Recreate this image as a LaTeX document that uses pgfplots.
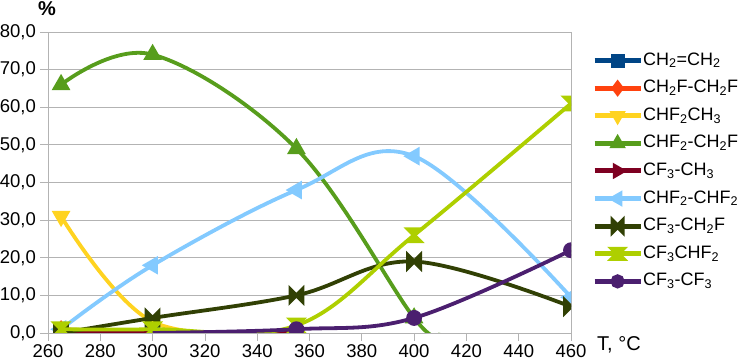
\documentclass[border=0pt]{standalone}
\usepackage{fontspec}
\setmainfont{Liberation Sans}
\usepackage{pgfplots}
\pgfplotsset{compat=1.18}
\definecolor{c1}{HTML}{004586}
\definecolor{c2}{HTML}{FF420E}
\definecolor{c3}{HTML}{FFD320}
\definecolor{c4}{HTML}{579D1C}
\definecolor{c5}{HTML}{7E0021}
\definecolor{c6}{HTML}{83CAFF}
\definecolor{c7}{HTML}{314004}
\definecolor{c8}{HTML}{AECF00}
\definecolor{c9}{HTML}{4B1F6F}
\definecolor{gridgray}{HTML}{B3B3B3}
\pgfdeclareplotmark{bowtie}{%
  \pgfpathmoveto{\pgfqpoint{-\pgfplotmarksize}{\pgfplotmarksize}}%
  \pgfpathlineto{\pgfqpoint{\pgfplotmarksize}{-\pgfplotmarksize}}%
  \pgfpathlineto{\pgfqpoint{\pgfplotmarksize}{\pgfplotmarksize}}%
  \pgfpathlineto{\pgfqpoint{-\pgfplotmarksize}{-\pgfplotmarksize}}%
  \pgfpathclose\pgfusepathqfillstroke}
\pgfdeclareplotmark{hourglass}{%
  \pgfpathmoveto{\pgfqpoint{-\pgfplotmarksize}{\pgfplotmarksize}}%
  \pgfpathlineto{\pgfqpoint{\pgfplotmarksize}{\pgfplotmarksize}}%
  \pgfpathlineto{\pgfqpoint{-\pgfplotmarksize}{-\pgfplotmarksize}}%
  \pgfpathlineto{\pgfqpoint{\pgfplotmarksize}{-\pgfplotmarksize}}%
  \pgfpathclose\pgfusepathqfillstroke}
\begin{document}
\begin{tikzpicture}
\begin{axis}[
  at={(0pt,0pt)}, anchor=south west,
  scale only axis, width=523pt, height=301pt,
  xmin=260, xmax=460, ymin=0, ymax=80,
  xtick={260,280,...,460}, ytick={0,10,...,80},
  ymajorgrids, grid style={gridgray, line width=0.8pt},
  axis line style={gridgray, line width=0.8pt},
  tick style={gridgray, line width=0.8pt},
  tick align=outside, major tick length=8pt,
  xtick pos=bottom, ytick pos=left,
  /pgf/number format/assume math mode=true,
  tick label style={font=\fontsize{18.5}{22}\selectfont, text=black},
  y tick label style={/pgf/number format/.cd, fixed, fixed zerofill, precision=1, use comma, /tikz/.cd, inner sep=1pt, xshift=-3pt},
  x tick label style={/pgf/number format/.cd, 1000 sep={}, /tikz/.cd, inner sep=1pt, yshift=-2pt},
  clip marker paths=true,
  every axis plot/.append style={line width=3.8pt, smooth, tension=0.6, mark options={solid, line width=0.4pt}},
  legend image code/.code={\draw[#1, mark indices={2}, line width=5pt, mark size=4.5pt] plot coordinates {(0pt,0pt) (23pt,0pt) (46pt,0pt)};},
  legend cell align=left,
  legend style={at={(axis description cs:1.040,0.934)}, anchor=north west, draw=none, fill=none,
    inner sep=0pt, row sep=10.6pt, column sep=0pt,
    font=\fontsize{18}{21}\selectfont,
    nodes={inner sep=0pt, text height=13pt, text depth=4pt}},
]
\addplot[c1, mark=square*, mark size=6pt, mark options={fill=c1, draw=c1}] coordinates {(265,0) (300,0)};
\addlegendentry{CH\textsubscript{2}=CH\textsubscript{2}}
\addplot[c2, mark=diamond*, mark size=6pt, mark options={fill=c2, draw=c2}] coordinates {(265,1) (300,0)};
\addlegendentry{CH\textsubscript{2}F-CH\textsubscript{2}F}
\addplot[c3, mark=triangle*, mark size=7pt, mark indices={1,2}, mark options={fill=c3, draw=c3, rotate=180}] coordinates {(265,31) (300,3) (355,0)};
\addlegendentry{CHF\textsubscript{2}CH\textsubscript{3}}
\addplot[c4, mark=triangle*, mark size=7pt, mark indices={1,2,3,4}, mark options={fill=c4, draw=c4}] coordinates {(265,66) (300,74) (355,49) (400,4) (410,0)};
\addlegendentry{CHF\textsubscript{2}-CH\textsubscript{2}F}
\addplot[c5, mark=triangle*, mark size=7pt, mark indices={1,2}, mark options={fill=c5, draw=c5, rotate=-90}] coordinates {(265,0) (300,0) (355,0)};
\addlegendentry{CF\textsubscript{3}-CH\textsubscript{3}}
\addplot[c6, mark=triangle*, mark size=7pt, mark options={fill=c6, draw=c6, rotate=90}] coordinates {(265,1) (300,18) (355,38) (400,47) (460,9.5)};
\addlegendentry{CHF\textsubscript{2}-CHF\textsubscript{2}}
\addplot[c7, mark=bowtie, mark size=6pt, mark options={fill=c7, draw=c7}] coordinates {(265,0) (300,4) (355,10) (400,19) (460,7)};
\addlegendentry{CF\textsubscript{3}-CH\textsubscript{2}F}
\addplot[c8, mark=hourglass, mark size=6pt, mark options={fill=c8, draw=c8}] coordinates {(265,1) (300,1) (355,2) (400,26) (460,61)};
\addlegendentry{CF\textsubscript{3}CHF\textsubscript{2}}
\addplot[c9, mark=*, mark size=6pt, mark indices={2,3,4,5}, mark options={fill=c9, draw=c9}] coordinates {(300,0) (355,1) (400,4) (460,22)};
\addlegendentry{CF\textsubscript{3}-CF\textsubscript{3}}
\end{axis}
\node[font=\bfseries\fontsize{20}{22}\selectfont, anchor=center] at (-1pt,324pt) {\%};
\node[font=\fontsize{20}{22}\selectfont, anchor=west, inner sep=0pt] at (549pt,-12pt) {T, °C};
\pgfresetboundingbox
\useasboundingbox (-48pt,-31pt) rectangle (702pt,333pt);
\end{tikzpicture}
\end{document}
